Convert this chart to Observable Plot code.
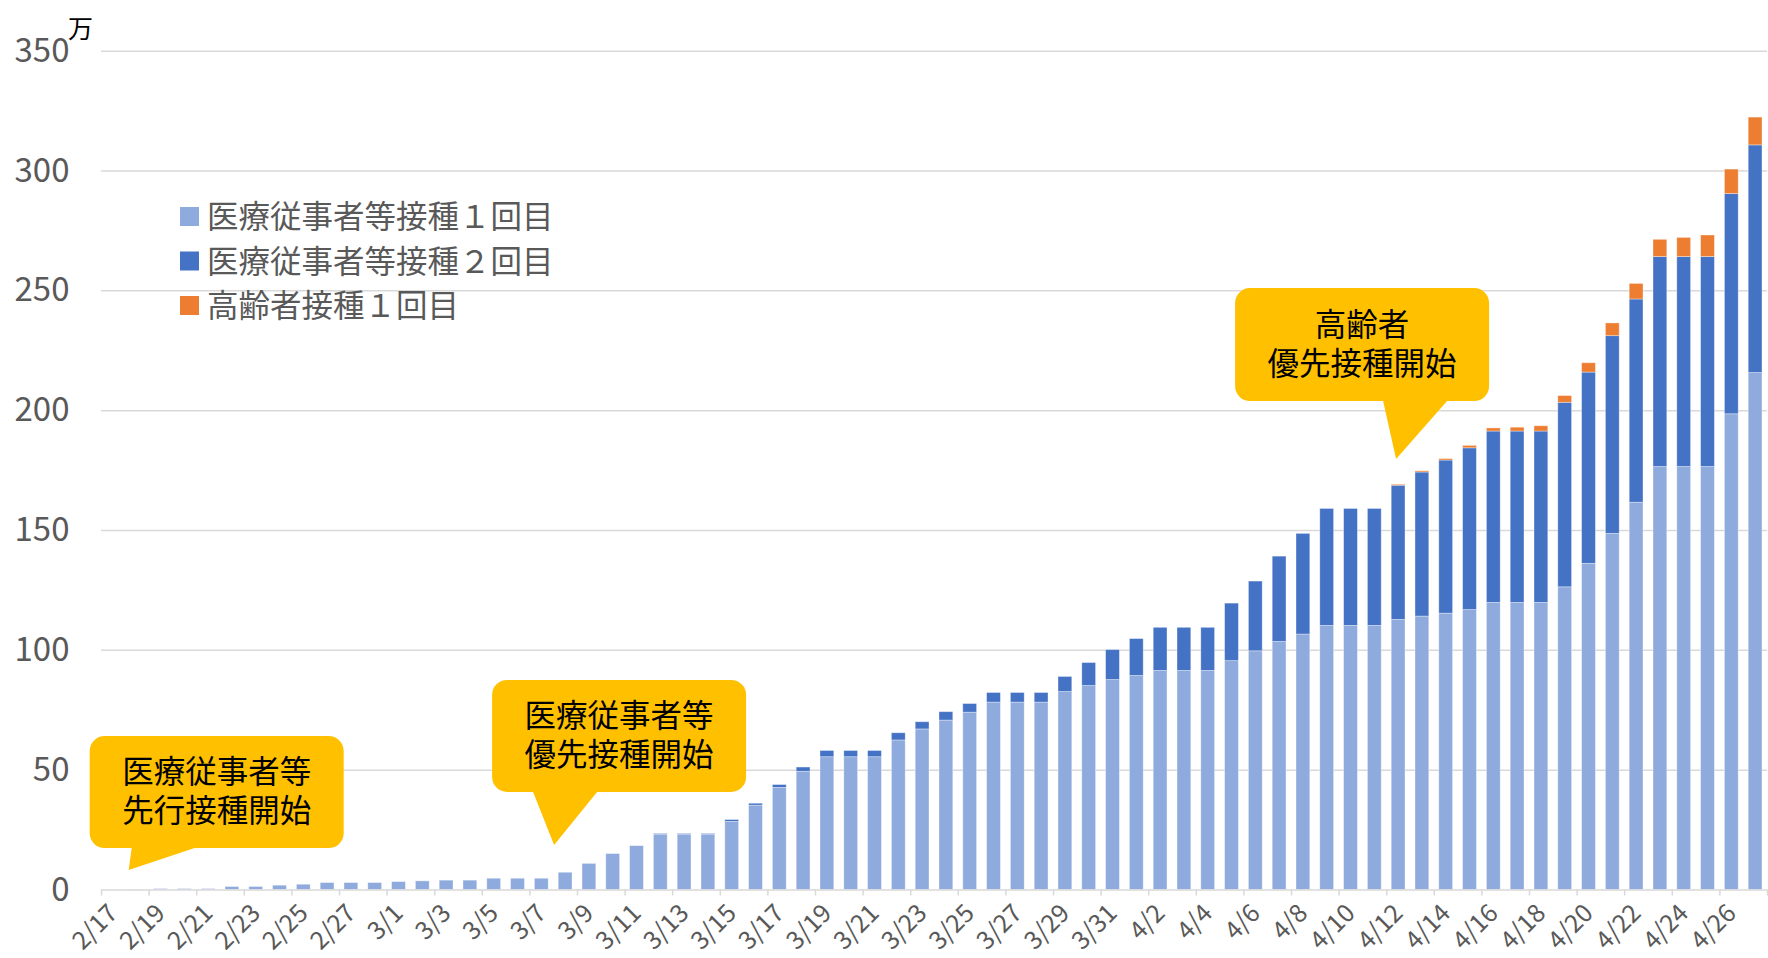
<!DOCTYPE html>
<html><head><meta charset="utf-8">
<script src="https://cdn.jsdelivr.net/npm/d3@7"></script>
<script src="https://cdn.jsdelivr.net/npm/@observablehq/plot@0.6"></script>
<style>
html,body{margin:0;padding:0;background:#fff;}
#chart{position:relative;width:1768px;height:958px;}
</style></head><body><div id="chart"></div>
<script>
// ---- data (万人, cumulative) ----
const dates = ["2/17","2/18","2/19","2/20","2/21","2/22","2/23","2/24","2/25","2/26","2/27","2/28",
"3/1","3/2","3/3","3/4","3/5","3/6","3/7","3/8","3/9","3/10","3/11","3/12","3/13","3/14","3/15","3/16",
"3/17","3/18","3/19","3/20","3/21","3/22","3/23","3/24","3/25","3/26","3/27","3/28","3/29","3/30","3/31",
"4/1","4/2","4/3","4/4","4/5","4/6","4/7","4/8","4/9","4/10","4/11","4/12","4/13","4/14","4/15","4/16",
"4/17","4/18","4/19","4/20","4/21","4/22","4/23","4/24","4/25","4/26","4/27"];
const hcwFirst = [0.01,0.05,0.4,0.4,0.4,1.25,1.25,1.8,2.2,2.9,2.9,2.9,
3.3,3.6,3.9,3.9,4.7,4.7,4.7,7.2,10.9,15.0,18.3,23.1,23.1,23.1,28.4,35.2,
42.6,49.3,55.4,55.4,55.4,62.4,67.0,70.7,74.0,78.2,78.2,78.2,82.6,85.1,87.6,
89.3,91.4,91.4,91.4,95.5,99.6,103.5,106.6,110.2,110.2,110.2,112.7,114.1,115.3,116.8,119.8,
119.8,119.8,126.3,136.1,148.6,161.6,176.5,176.5,176.5,198.5,215.7];
const hcwSecond = [0,0,0,0,0,0,0,0,0,0,0,0,
0,0,0,0,0,0,0,0,0,0,0,0.3,0.3,0.3,0.8,0.8,
1.2,1.8,2.6,2.6,2.6,3.0,3.0,3.5,3.6,4.0,4.0,4.0,6.3,9.6,12.5,
15.4,18.0,18.0,18.0,24.0,29.1,35.6,42.0,48.8,48.8,48.8,56.0,60.1,63.9,67.5,71.5,
71.5,71.5,77.0,79.8,82.5,84.8,87.6,87.6,87.6,91.9,95.0];
const elderlyFirst = [0,0,0,0,0,0,0,0,0,0,0,0,
0,0,0,0,0,0,0,0,0,0,0,0,0,0,0,0,
0,0,0,0,0,0,0,0,0,0,0,0,0,0,0,
0,0,0,0,0,0,0,0,0,0,0,0.4,0.5,0.6,1.0,1.3,
1.6,2.2,2.8,3.9,5.3,6.5,7.2,8.0,9.0,10.2,11.6];
const seriesNames = ["医療従事者等接種１回目","医療従事者等接種２回目","高齢者接種１回目"];
const seriesColors = ["#8FAADC","#4472C4","#ED7D31"];
const yTicks = [0,50,100,150,200,250,300,350];
const xTickLabels = dates.filter((d,i)=>i%2===0);
const unitLabel = "万";
const callouts = [
  {date:"2/18", value:8.1, lines:["医療従事者等","先行接種開始"]},
  {date:"3/8", value:18.6, lines:["医療従事者等","優先接種開始"]},
  {date:"4/12", value:179.6, lines:["高齢者","優先接種開始"]}
];

// ---- layout ----
const W = 1768, H = 958;
const mL = 101, mR = 1, mT = 50.7, mB = 68.5;
const step = (W - mL - mR) / dates.length;
const font = "'Noto Sans CJK JP','Noto Sans',sans-serif";
const calloutLayout = [
  {dx:-8,  L:-39,  R:215, T:-134, B:-22, b0:3,   b1:66},
  {dx:-11, L:-62,  R:192, T:-165, B:-53, b0:-21, b1:43},
  {dx:-2,  L:-161, R:93,  T:-171, B:-58, b0:-13, b1:51}
];

const long = [];
dates.forEach((d,i)=>{
  long.push({date:d, series:seriesNames[0], value:hcwFirst[i]});
  long.push({date:d, series:seriesNames[1], value:hcwSecond[i]});
  long.push({date:d, series:seriesNames[2], value:elderlyFirst[i]});
});

const chart = Plot.plot({
  width: W, height: H,
  marginLeft: mL, marginRight: mR, marginTop: mT, marginBottom: mB,
  style: {fontFamily: font, background: "#fff", overflow: "visible"},
  x: {type: "band", domain: dates, paddingInner: 0.42, paddingOuter: 0.21, label: null},
  y: {domain: [0, 350], label: null},
  color: {domain: seriesNames, range: seriesColors},
  marks: [
    Plot.gridY(yTicks.filter(v=>v>0), {stroke:"#d9d9d9", strokeOpacity:1, strokeWidth:1.5}),
    Plot.barY(long, {x:"date", y:"value", fill:"series", stroke:"#ffffff", strokeOpacity:0.45, strokeWidth:0.8}),
    Plot.ruleY([0], {stroke:"#d9d9d9", strokeWidth:1.5}),
    Plot.axisY({ticks: yTicks, tickSize:0, tickPadding:32, fontSize:33, color:"#595959", label:null}),
    Plot.axisX({ticks: xTickLabels, tickSize:6, tickFormat:()=>"", dx:-step/2, stroke:"#d9d9d9", strokeWidth:1.5, label:null}),
    Plot.axisX({ticks: [dates[dates.length-1]], tickSize:6, tickFormat:()=>"", dx:step/2, stroke:"#d9d9d9", strokeWidth:1.5, label:null}),
    Plot.axisX({ticks: xTickLabels, tickSize:0, tickRotate:-45, tickPadding:19, fontSize:25, color:"#595959", label:null})
  ]
});
document.getElementById("chart").appendChild(chart);

const svg = d3.select(chart);
const xs = chart.scale("x"), ys = chart.scale("y");
const bw = xs.bandwidth;

// unit label
svg.append("text").attr("x", 68).attr("y", 27).attr("text-anchor","start").attr("dominant-baseline","central")
  .attr("font-size", 25).attr("fill", "#000").attr("font-family", font).text(unitLabel);

// legend
const legendY = [214, 258.5, 303];
seriesNames.forEach((s,i)=>{
  svg.append("rect").attr("x",180).attr("y",legendY[i]-7).attr("width",19).attr("height",19).attr("fill",seriesColors[i]);
  svg.append("text").attr("x",207).attr("y",legendY[i]).attr("text-anchor","start").attr("dominant-baseline","central")
    .attr("font-size",31.5).attr("fill","#595959").attr("font-family",font).text(s);
});

// callouts
callouts.forEach((c,k)=>{
  const lay = calloutLayout[k];
  const tx = xs.apply(c.date) + bw/2 + lay.dx;
  const ty = ys.apply(c.value);
  const r = 15;
  const L = tx+lay.L, R = tx+lay.R, T = ty+lay.T, B = ty+lay.B;
  const p = `M${L+r},${T}H${R-r}A${r},${r} 0 0 1 ${R},${T+r}V${B-r}A${r},${r} 0 0 1 ${R-r},${B}`+
    `H${tx+lay.b1}L${tx},${ty}L${tx+lay.b0},${B}H${L+r}A${r},${r} 0 0 1 ${L},${B-r}V${T+r}A${r},${r} 0 0 1 ${L+r},${T}Z`;
  svg.append("path").attr("d", p).attr("fill", "#FFC000");
  const cx = (L+R)/2, cy = (T+B)/2;
  const t = svg.append("text").attr("text-anchor","middle")
    .attr("font-size",31.5).attr("fill","#000").attr("font-family",font);
  [-23, 16].forEach((off,j)=>{
    t.append("tspan").attr("x",cx).attr("y",cy+off).attr("dominant-baseline","central").text(c.lines[j]);
  });
});
</script></body></html>
